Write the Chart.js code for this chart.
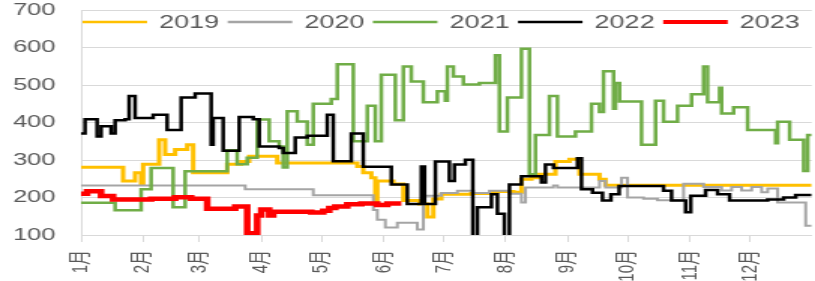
<!DOCTYPE html>
<html>
<head>
<meta charset="utf-8">
<script src="https://cdn.jsdelivr.net/npm/chart.js@4.4.1/dist/chart.umd.min.js"></script>
<style>
  html, body { margin: 0; padding: 0; background: #fff; overflow: hidden; }
  /* the reference is stretched sideways, so draw narrow and widen it */
  #wrap { width: 543px; height: 281px; transform: scaleX(1.501); transform-origin: 0 0; }
</style>
</head>
<body>
<div id="wrap"><canvas id="chart"></canvas></div>
<script>
const monthLabels = ['1月', '2月', '3月', '4月', '5月', '6月', '7月', '8月', '9月', '10月', '11月', '12月'];
const monthStarts = [0, 31, 59, 90, 120, 151, 181, 212, 243, 273, 304, 334];
const yTicks = [100, 200, 300, 400, 500, 600, 700];
const seriesNames = ['2019', '2020', '2021', '2022', '2023'];

// day of year where each step starts, and its value
const days2019 = [0, 21, 27, 30, 31, 39, 42, 47, 53, 56, 73, 80, 84, 98, 138, 141, 145, 147, 148, 156, 161, 169, 173, 176, 180, 195, 206, 216, 220, 225, 229, 237, 244, 249, 259, 262, 365];
const vals2019 = [281, 244, 266, 236, 289, 354, 315, 328, 341, 266, 289, 296, 310, 292, 283, 266, 253, 187, 244, 236, 192, 183, 148, 196, 209, 211, 216, 214, 249, 253, 262, 296, 302, 262, 249, 233, 233];

const days2020 = [0, 82, 116, 146, 148, 152, 158, 168, 171, 180, 188, 196, 204, 214, 220, 222, 236, 238, 253, 259, 262, 270, 273, 281, 288, 301, 311, 320, 325, 330, 335, 340, 343, 348, 362, 365];
const vals2020 = [232, 222, 206, 167, 141, 120, 133, 115, 205, 212, 218, 212, 218, 210, 187, 227, 232, 227, 227, 244, 227, 253, 200, 197, 193, 237, 228, 219, 228, 219, 228, 214, 224, 187, 125, 125];

const days2021 = [0, 17, 30, 35, 46, 52, 73, 78, 83, 88, 94, 99, 101, 103, 108, 113, 116, 125, 128, 136, 143, 147, 150, 157, 161, 165, 171, 178, 182, 183, 186, 191, 199, 207, 209, 213, 220, 224, 227, 234, 238, 247, 255, 259, 261, 266, 267, 269, 280, 287, 291, 298, 305, 311, 313, 319, 320, 326, 333, 347, 348, 354, 361, 363, 365];
const vals2021 = [186, 166, 222, 279, 174, 270, 326, 289, 306, 408, 350, 336, 280, 430, 403, 341, 450, 463, 556, 350, 445, 350, 528, 406, 550, 510, 454, 484, 458, 550, 523, 502, 506, 580, 376, 467, 597, 262, 367, 471, 363, 376, 450, 428, 537, 437, 506, 456, 341, 458, 402, 445, 476, 550, 454, 493, 424, 441, 380, 345, 402, 354, 271, 367, 367];

const days2022 = [0, 2, 8, 10, 15, 17, 22, 24, 27, 36, 43, 50, 57, 65, 66, 71, 79, 86, 89, 99, 101, 107, 113, 123, 126, 135, 141, 155, 163, 170, 171.6, 177, 184, 186.5, 192, 195.7, 198, 205, 208, 211.5, 214, 220, 230, 232, 236, 248, 250, 255.5, 260.5, 264.7, 268.8, 291, 295, 302, 304.6, 312, 318, 324, 343, 351, 357, 365];
const vals2022 = [371, 409, 363, 390, 371, 406, 409, 471, 412, 421, 380, 467, 478, 341, 412, 325, 415, 409, 336, 332, 319, 360, 365, 421, 297, 371, 282, 235, 183, 283, 183, 296, 244, 288, 301, 60, 174, 209, 157, 60, 235, 257, 240, 288, 279, 305, 222, 213, 192, 209, 231, 218, 192, 161, 205, 220, 209, 192, 195, 200, 207, 207];

const days2023 = [0, 3, 10, 16, 35, 47, 55, 63, 77, 83, 88, 90, 94, 96, 115, 121, 124, 127, 133, 140, 148, 153, 160];
const vals2023 = [210, 217, 204, 195, 197, 201, 197, 170, 176, 105, 152, 168, 152, 162, 160, 165, 172, 176, 182, 184, 180, 184, 184];

const seriesDays = [days2019, days2020, days2021, days2022, days2023];
const seriesVals = [vals2019, vals2020, vals2021, vals2022, vals2023];
const colors = ['#FFC000', '#A5A5A5', '#70AD47', '#000000', '#FF0000'];
const widths = [3, 2, 2.5, 2.5, 4.5];

const fontFamily = "'Liberation Sans', 'Noto Sans CJK SC', sans-serif";
const textColor = '#595959';
const gridColor = '#d9d9d9';

const datasets = seriesNames.map((name, i) => ({
  label: name,
  data: seriesDays[i].map((d, j) => ({ x: d, y: seriesVals[i][j] })),
  borderColor: colors[i],
  backgroundColor: colors[i],
  borderWidth: widths[i],
  stepped: true,
  pointRadius: 0,
  fill: false,
  clip: 0,
  order: seriesNames.length - i, // later years drawn on top
}));

// legend drawn inside the plot, like the original
const insideLegend = {
  id: 'insideLegend',
  afterDraw(chart) {
    const ctx = chart.ctx;
    const y = 22;
    ctx.save();
    chart.data.datasets.forEach((ds, i) => {
      const x0 = 55 + i * 96.7;
      ctx.strokeStyle = ds.borderColor;
      ctx.lineWidth = i === 4 ? 4 : 2.5;
      ctx.beginPath();
      ctx.moveTo(x0, y);
      ctx.lineTo(x0 + 43, y);
      ctx.stroke();
      ctx.fillStyle = textColor;
      ctx.font = `18px ${fontFamily}`;
      ctx.textBaseline = 'middle';
      ctx.textAlign = 'left';
      ctx.fillText(ds.label, x0 + 51, y + 1);
    });
    ctx.restore();
  }
};

new Chart(document.getElementById('chart'), {
  type: 'line',
  data: { datasets },
  plugins: [insideLegend],
  options: {
    responsive: true,
    maintainAspectRatio: false,
    animation: false,
    layout: { padding: { top: 6, right: 1, left: 0, bottom: 0 } },
    plugins: { legend: { display: false }, tooltip: { enabled: false } },
    scales: {
      x: {
        type: 'linear',
        min: 0,
        max: 365,
        afterBuildTicks: axis => { axis.ticks = monthStarts.map(v => ({ value: v })); },
        afterFit: axis => { axis.height = 46; },
        ticks: {
          autoSkip: false,
          minRotation: 90,
          maxRotation: 90,
          padding: 8,
          color: textColor,
          font: { family: fontFamily, size: 15 },
          callback: (v, idx) => monthLabels[idx],
        },
        grid: { drawOnChartArea: false, drawTicks: true, tickLength: 7, color: gridColor },
        border: { color: gridColor },
      },
      y: {
        min: 100,
        max: 700,
        afterBuildTicks: axis => { axis.ticks = yTicks.map(v => ({ value: v })); },
        afterFit: axis => { axis.width = 54; },
        ticks: {
          padding: 0,
          color: textColor,
          font: { family: fontFamily, size: 17 },
        },
        // invisible tick marks keep the labels away from the axis
        grid: { color: gridColor, drawTicks: true, tickLength: 17, tickColor: 'rgba(0,0,0,0)' },
        border: { color: gridColor },
      },
    },
  },
});
</script>
</body>
</html>
